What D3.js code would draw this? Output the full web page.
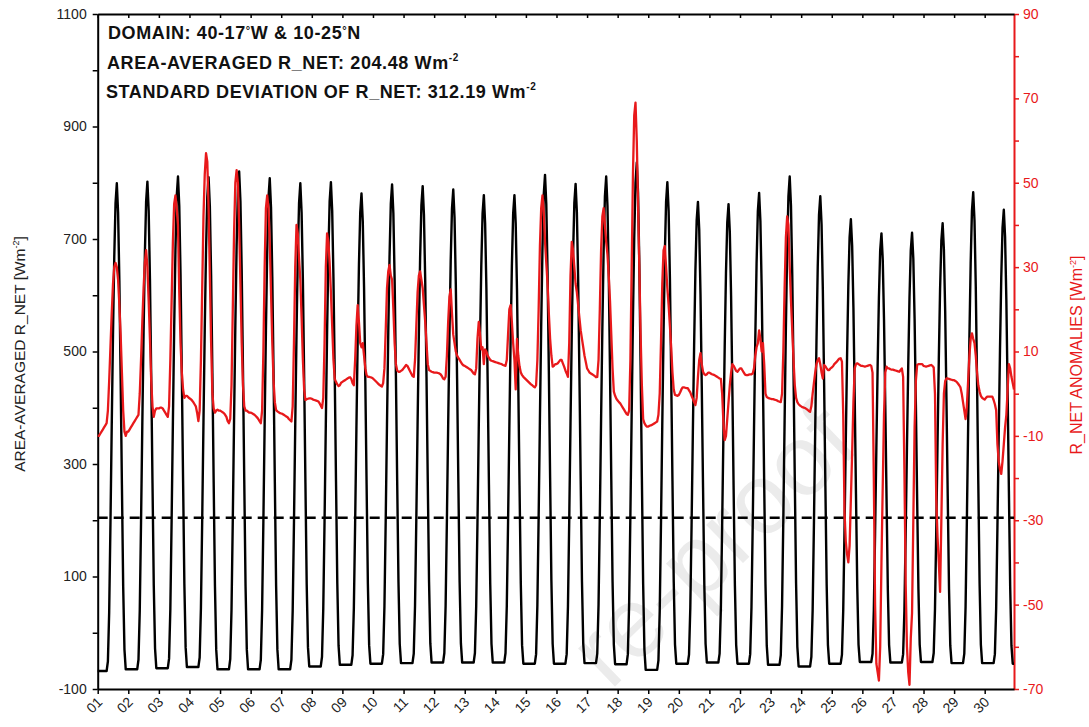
<!DOCTYPE html>
<html>
<head>
<meta charset="utf-8">
<script src="https://cdn.jsdelivr.net/npm/d3@7"></script>
<style>
  body { margin: 0; background: #fff; }
  svg text { font-family: "Liberation Sans", Arial, Helvetica, sans-serif; }
</style>
</head>
<body>
<div id="chart"></div>
<script>
// day tick labels (one tick at 00 UTC of each day)
var dayLabels = ["01","02","03","04","05","06","07","08","09","10","11","12","13","14","15",
                 "16","17","18","19","20","21","22","23","24","25","26","27","28","29","30"];

// hourly area-averaged R_NET [Wm-2], one row per day (00..23 UTC)
var rNet = [
  [-68,-68,-68,-68,-68,-68,-68,-68,-51,36,192,366,530,669,764,799,747,626,453,263,82,-30,-65,-65],
  [-65,-65,-65,-65,-65,-65,-65,-65,-48,39,195,369,533,672,767,802,750,629,456,266,84,-28,-63,-63],
  [-63,-63,-63,-63,-63,-63,-63,-63,-46,42,199,374,540,680,776,811,759,637,462,270,87,-26,-61,-61],
  [-61,-61,-61,-61,-61,-61,-61,-61,-44,44,200,375,540,679,775,810,758,635,460,268,84,-30,-65,-65],
  [-65,-65,-65,-65,-65,-65,-65,-65,-47,41,201,378,546,687,785,820,767,643,466,271,85,-30,-65,-65],
  [-65,-65,-65,-65,-65,-65,-65,-65,-48,40,197,372,537,677,773,808,756,633,459,267,83,-30,-65,-65],
  [-65,-65,-65,-65,-65,-65,-65,-65,-48,39,194,367,531,669,764,799,747,627,455,266,86,-26,-60,-60],
  [-60,-60,-60,-60,-60,-60,-60,-60,-43,43,198,371,534,672,767,801,750,629,458,269,89,-23,-57,-57],
  [-57,-57,-57,-57,-57,-57,-57,-57,-40,44,194,362,521,655,747,781,731,614,447,263,87,-22,-55,-55],
  [-55,-55,-55,-55,-55,-55,-55,-55,-38,47,201,371,533,669,763,797,746,627,457,269,91,-20,-54,-54],
  [-54,-54,-54,-54,-54,-54,-54,-54,-37,48,200,370,531,667,760,794,743,625,455,269,91,-19,-53,-53],
  [-53,-53,-53,-53,-53,-53,-53,-53,-36,48,199,368,527,662,754,788,738,620,452,267,90,-19,-53,-53],
  [-53,-53,-53,-53,-53,-53,-53,-53,-36,47,196,363,520,653,745,778,728,612,446,263,88,-20,-53,-53],
  [-53,-53,-53,-53,-53,-53,-53,-53,-36,47,196,363,520,653,745,778,728,611,445,262,87,-22,-55,-55],
  [-55,-55,-55,-55,-55,-55,-55,-55,-38,49,206,380,545,684,779,814,762,640,466,275,93,-20,-55,-55],
  [-55,-55,-55,-55,-55,-55,-55,-55,-38,47,201,372,534,670,764,798,747,628,457,270,91,-20,-54,-54],
  [-54,-54,-54,-54,-54,-54,-54,-54,-37,50,206,379,543,681,776,811,759,638,464,273,91,-21,-56,-56],
  [-56,-56,-56,-56,-56,-56,-56,-56,-38,51,212,390,559,702,800,836,782,656,475,277,87,-30,-66,-66],
  [-66,-66,-66,-66,-66,-66,-66,-66,-49,38,194,368,532,671,766,801,750,630,459,270,91,-21,-55,-55],
  [-55,-55,-55,-55,-55,-55,-55,-55,-39,44,191,356,511,643,733,766,717,602,438,258,86,-20,-53,-53],
  [-53,-53,-53,-53,-53,-53,-53,-53,-37,45,192,355,509,640,729,762,713,599,435,255,84,-22,-55,-55],
  [-55,-55,-55,-55,-55,-55,-55,-55,-38,45,196,364,523,656,749,782,732,614,446,262,86,-23,-57,-57],
  [-57,-57,-57,-57,-57,-57,-57,-57,-40,47,203,377,542,681,776,811,759,637,463,271,88,-25,-60,-60],
  [-60,-60,-60,-60,-60,-60,-60,-60,-43,40,191,358,517,651,743,776,726,610,444,261,86,-22,-55,-55],
  [-55,-55,-55,-55,-55,-55,-55,-55,-39,40,182,340,490,617,703,735,688,578,420,247,82,-21,-52,-52],
  [-52,-52,-52,-52,-52,-52,-52,-52,-37,39,177,329,474,596,680,710,664,557,405,237,77,-22,-53,-53],
  [-53,-53,-53,-53,-53,-53,-53,-53,-38,39,176,329,474,596,680,711,665,558,406,238,78,-21,-52,-52],
  [-52,-52,-52,-52,-52,-52,-52,-52,-36,42,182,338,486,611,697,728,681,572,415,243,79,-23,-54,-54],
  [-54,-54,-54,-54,-54,-54,-54,-54,-37,46,197,365,524,657,750,783,733,616,448,264,88,-21,-54,-54],
  [-54,-54,-54,-54,-54,-54,-54,-54,-38,43,188,349,502,631,720,752,704,591,429,252,82,-23,-55,-55]
];

// hourly R_NET anomalies [Wm-2], one row per day
var rNetAnom = [
  [-10,-10,-9.5,-9,-8.5,-8,-7.5,-7,-4,3,11,19,26,30,31,30,27,21,14,5,-4,-9,-10,-9],
  [-9,-8.5,-8,-7.5,-7,-6.5,-6,-5.5,-5,0,8,17,25,31,34,30,22,13,3,-3,-5.5,-4,-3.5,-3.5],
  [-3.5,-3.3,-3.3,-3.5,-4,-4.5,-5,-5.5,-3,8,22,36,45,47,44,40,24,12,5,1,-1,-0.5,-0.5,-0.8],
  [-1.1,-1.3,-1.6,-2,-2.5,-3,-4.5,-6.5,-4,8,25,42,52,57,55,44,28,12,0,-3.5,-4.5,-4,-3.8,-4],
  [-4,-4.2,-4.4,-4.6,-5,-5.5,-6.5,-7,-6,2,20,38,50,53,50,40,26,12,2,-3,-4,-4,-4.3,-4.5],
  [-4.5,-4.6,-4.8,-5,-5.3,-5.6,-6,-6.5,-7,-4,10,30,44,47,44,36,24,12,3,-2,-3.9,-4.2,-4.4,-4.6],
  [-4.7,-4.8,-5,-5.2,-5.4,-5.6,-6,-6.3,-6.6,-3,12,30,40,38,32,27,18,8,1,-1.5,-1.3,-1.2,-1.1,-1.1],
  [-1.2,-1.4,-1.5,-1.6,-1.7,-1.8,-2.2,-2.8,-3.4,-1,12,30,38,36,31,24,16,8,3.5,2.8,2.2,1.8,2,2.6],
  [2.8,3,3.2,3.4,3.6,3.8,3.9,3.5,2.5,2,8,16,21,17,12,11,12,9,6,4.4,4,4,3.9,3.8],
  [3.6,3.3,3,2.7,2.4,2.1,1.9,1.7,2.5,6,15,25,29,30.5,28,27,20,12,7,5.5,5.2,5.2,5.4,5.6],
  [6,6.4,6.8,6.6,6,5.4,4.8,4.2,4,8,16,24,28,29,27,25,21,17,12,7,5.6,5.4,5.2,5.1],
  [5,5,5,4.9,4.8,4.6,4.2,3.6,3.4,4,9,17,23,24.7,19,14,12,10,9,8.5,8,7.5,7,6.7],
  [6.6,6.4,6.2,6,5.8,5.6,5.2,4.8,4.6,6,13,17,14,10.5,11,7,10.5,10,9,8.5,8,7.8,7.7,7.6],
  [7.5,7.4,7.3,7.2,7.1,7,6.8,6.7,6.6,8,14,20,21,17,12,8,1,13,9,6.5,5,4.4,4,3.7],
  [3.4,3.1,2.8,2.5,2.2,2,1.7,1.5,2,8,20,35,44,47,43,36,31,26,19,13,9,6.4,6.6,7],
  [7,7.2,7.6,8,8,7.2,6.4,5.5,4.8,4,12,28,36,34,30,26,24,21,18,15,13,11,9,7.5],
  [6,5.5,5,4.8,4.6,4.4,4.2,3.9,4,8,20,34,42,44,40,36,33,28,22,14,6,0.5,-0.5,-1.2],
  [-1.6,-2,-2.3,-2.8,-3.3,-3.8,-4.3,-4.8,-5,-4,8,30,52,66,69,60,45,30,14,2,-6,-7,-7.5,-7.8],
  [-7.8,-7.6,-7.5,-7.4,-7.2,-7,-6.8,-6.6,-5,0,12,26,34,35,30,25,21,16,11,5,1,-0.3,-0.4,-0.5],
  [-0.3,0.3,1,1.5,1.5,1.4,1.3,1.3,0.8,0.3,-0.5,-1.2,-2,-2.7,-1,4,8,9.6,7,5.2,4.6,4.4,4.6,5],
  [5,4.8,4.6,4.5,4.4,4.2,4,3.8,3.6,3.5,0,-7,-11,-10,-6,-2,2,5,7,6.6,6,5.4,5.2,5.6],
  [6,6,5.5,5,4.5,4.4,4.4,4.5,4.6,4.6,4.8,6,9,11,12,15,13,10,12,7,0,-0.8,-1,-1.1],
  [-1.2,-1.3,-1.3,-1.4,-1.5,-1.6,-1.8,-1.9,-2,0,10,25,37,42,40,30,22,15,8,2,-1,-2,-2.5,-2.8],
  [-3,-3.2,-3.3,-3.4,-3.6,-3.8,-4.1,-4.3,-3,0,2.5,5,7,8,8.4,7,5,3.6,6.8,6.5,6,5.6,5.6,6],
  [6.2,6.5,7,7.3,7.6,8,8.3,8.4,7.6,-5,-28,-35,-38,-40,-36,-25,-14,-2,6,7,7.2,7,6.8,6.6],
  [6.6,6.5,6.4,6.5,6.6,6.7,6.8,6.6,5,-20,-50,-64,-66,-68,-60,-40,-22,-5,5,6.4,6,6,5.8,5.7],
  [5.7,5.6,5.5,5.4,5.3,5.2,5.6,6,4,-18,-45,-60,-66,-69,-58,-52,-30,-8,3,6.8,7,7,7,7],
  [6.6,6.5,6.4,6.5,6.6,6.7,6.8,6.6,6.2,0,-25,-34,-40,-47,-30,-12,0,3,3.6,3.6,3.5,3.4,3.3,3.2],
  [3.2,3,2.8,2.4,2,1.5,0,-2,-4,-6,-3,3,9,13,14.3,13,12,9,5,2,0.5,-0.5,-1,-1.2],
  [-1.4,-1,-0.7,-0.7,-0.7,-0.7,-0.7,-1.5,-2.5,-3.9,-12,-16,-18,-19,-16,-12,-8,-5,1,7,6,4,2.5,1]
];

var meanRNet = 204.48;
var stdRNet = 312.19;
var leftLabels = [-100, 100, 300, 500, 700, 900, 1100];
var rightLabels = [-70, -50, -30, -10, 10, 30, 50, 70, 90];

var width = 1089, height = 727;
var margin = {left: 97.7, right: 1014, top: 14, bottom: 689};
var red = "#e8191b";

var svg = d3.select("#chart").append("svg")
    .attr("width", width)
    .attr("height", height)
    .style("display", "block");

svg.append("rect").attr("width", width).attr("height", height).attr("fill", "#fff");

// faint watermark of the source page
svg.append("text")
    .attr("transform", "translate(862,448) rotate(-44)")
    .attr("text-anchor", "end")
    .attr("font-size", 100)
    .attr("fill", "#ebebeb")
    .text("re-proof");

var net = rNet.flat().map(function (v, i) { return {h: i, v: v}; });
var anom = rNetAnom.flat().map(function (v, i) { return {h: i, v: v}; });

var x = d3.scaleLinear().domain([0, net.length - 1]).range([margin.left, margin.right]);
var yL = d3.scaleLinear().domain([-100, 1100]).range([margin.bottom, margin.top]);
var yR = d3.scaleLinear().domain([-70, 90]).range([margin.bottom, margin.top]);
var dayTicks = dayLabels.map(function (d, i) { return i * 24; });

// left axis
var gl = svg.append("g")
    .attr("transform", "translate(" + margin.left + ",0)")
    .call(d3.axisLeft(yL)
        .tickValues(d3.range(-100, 1101, 100))
        .tickSize(5)
        .tickSizeOuter(0)
        .tickFormat(function (d) { return leftLabels.indexOf(d) >= 0 ? d : ""; }));
gl.select(".domain").attr("stroke", "#000").attr("stroke-width", 2);
gl.selectAll(".tick line").attr("stroke", "#000").attr("stroke-width", 1.5);
gl.selectAll(".tick text").attr("font-size", 14).attr("fill", "#222").attr("x", -11);

// right axis
var gr = svg.append("g")
    .attr("transform", "translate(" + margin.right + ",0)")
    .call(d3.axisRight(yR)
        .tickValues(d3.range(-70, 91, 10))
        .tickSize(5)
        .tickSizeOuter(0)
        .tickFormat(function (d) { return rightLabels.indexOf(d) >= 0 ? d : ""; }));
gr.select(".domain").attr("stroke", red).attr("stroke-width", 2);
gr.selectAll(".tick line").attr("stroke", red).attr("stroke-width", 1.5);
gr.selectAll(".tick text").attr("font-size", 14).attr("fill", red).attr("x", 9);

// bottom axis
var gb = svg.append("g")
    .attr("transform", "translate(0," + margin.bottom + ")")
    .call(d3.axisBottom(x).tickValues(dayTicks).tickSize(5).tickSizeOuter(0)
        .tickFormat(function (d, i) { return dayLabels[i]; }));
gb.select(".domain").attr("stroke", "#000").attr("stroke-width", 2);
gb.selectAll(".tick line").attr("stroke", "#000").attr("stroke-width", 1.5);
gb.selectAll(".tick text")
    .attr("font-size", 14)
    .attr("fill", "#222")
    .attr("text-anchor", "end")
    .attr("x", 0).attr("y", 0).attr("dy", 0)
    .attr("transform", "translate(5,14) rotate(-45)");

// top frame with inward day ticks
var gt = svg.append("g")
    .attr("transform", "translate(0," + margin.top + ")")
    .call(d3.axisBottom(x).tickValues(dayTicks).tickSize(4).tickSizeOuter(0).tickFormat(""));
gt.select(".domain").attr("stroke", "#000").attr("stroke-width", 2);
gt.selectAll(".tick line").attr("stroke", "#000").attr("stroke-width", 1.5);

// mean line
svg.append("line")
    .attr("x1", margin.left).attr("x2", margin.right)
    .attr("y1", yL(meanRNet)).attr("y2", yL(meanRNet))
    .attr("stroke", "#000").attr("stroke-width", 2.5)
    .attr("stroke-dasharray", "10,6");

svg.append("path")
    .datum(net)
    .attr("fill", "none")
    .attr("stroke", "#000")
    .attr("stroke-width", 2.4)
    .attr("stroke-linejoin", "round")
    .attr("d", d3.line().x(function (d) { return x(d.h); }).y(function (d) { return yL(d.v); }));

svg.append("path")
    .datum(anom)
    .attr("fill", "none")
    .attr("stroke", red)
    .attr("stroke-width", 2.3)
    .attr("stroke-linejoin", "round")
    .attr("d", d3.line().x(function (d) { return x(d.h); }).y(function (d) { return yR(d.v); }));

// annotations
function withSup(sel, main, sup, tail, supSize, rise) {
    sel.append("tspan").text(main);
    sel.append("tspan").attr("font-size", supSize).attr("dy", -rise).text(sup);
    if (tail) sel.append("tspan").attr("dy", rise).text(tail);
}

var notes = svg.append("g").attr("font-weight", "bold").attr("font-size", 18).attr("fill", "#111");
var l1 = notes.append("text").attr("x", 108).attr("y", 39).attr("letter-spacing", 0.6);
l1.append("tspan").text("DOMAIN: 40-17");
l1.append("tspan").attr("font-size", 11).attr("dy", -5).text("\u00b0");
l1.append("tspan").attr("dy", 5).text("W & 10-25");
l1.append("tspan").attr("font-size", 11).attr("dy", -5).text("\u00b0");
l1.append("tspan").attr("dy", 5).text("N");
withSup(notes.append("text").attr("x", 107).attr("y", 69).attr("letter-spacing", 0.6),
    "AREA-AVERAGED R_NET: " + meanRNet.toFixed(2) + " Wm", "-2", "", 10, 8);
withSup(notes.append("text").attr("x", 106).attr("y", 98).attr("letter-spacing", 0.6),
    "STANDARD DEVIATION OF R_NET: " + stdRNet.toFixed(2) + " Wm", "-2", "", 10, 8);

// axis titles
withSup(svg.append("text")
    .attr("transform", "translate(25,354) rotate(-90)")
    .attr("text-anchor", "middle")
    .attr("font-size", 15.5)
    .attr("fill", "#222"),
    "AREA-AVERAGED R_NET [Wm", "-2", "]", 9, 6);

withSup(svg.append("text")
    .attr("transform", "translate(1082,355) rotate(-90)")
    .attr("text-anchor", "middle")
    .attr("font-size", 16)
    .attr("fill", red),
    "R_NET ANOMALIES [Wm", "-2", "]", 9, 6);
</script>
</body>
</html>
